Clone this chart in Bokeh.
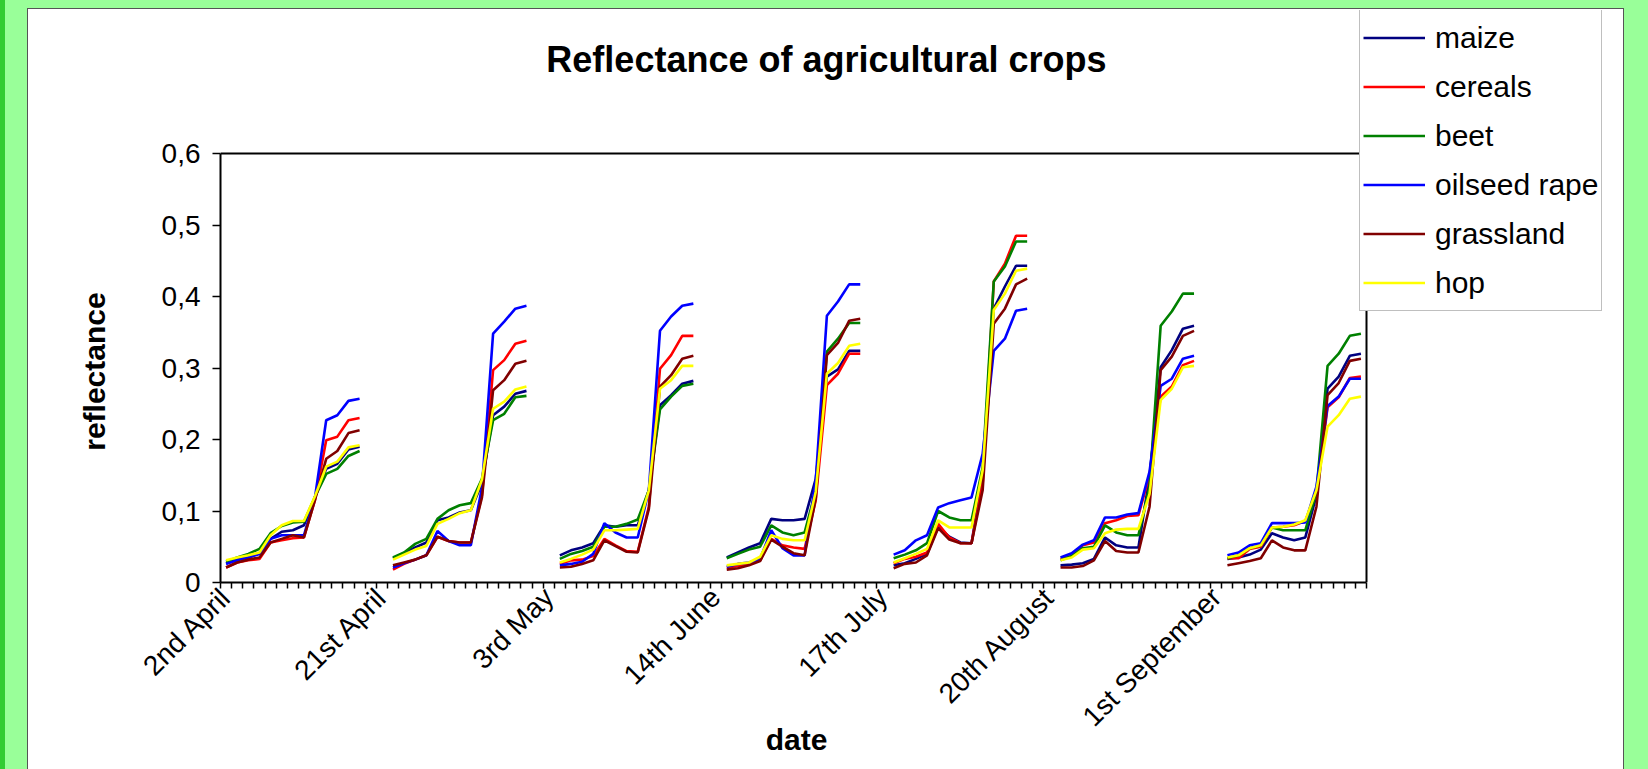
import math
from bokeh.plotting import figure
from bokeh.models import (Range1d, FixedTicker, CustomJSTickFormatter, Legend,
                          LegendItem, Label)
from bokeh.layouts import column
from bokeh.embed import file_html
from bokeh.resources import INLINE

dates = ["2nd April", "21st April", "3rd May", "14th June", "17th July",
         "20th August", "1st September"]
date_label_slots = [1, 15, 30, 45, 60, 75, 90]   # category slot carrying each date label
crops = ["maize", "cereals", "beet", "oilseed rape", "grassland", "hop"]
colors = ["#000080", "#FF0000", "#008000", "#0000FF", "#800000", "#FFFF00"]

maize = [
    [.027, .033, .035, .041, .061, .071, .073, .080, .120, .159, .166, .186, .190],
    [.034, .041, .049, .056, .087, .091, .098, .101, .139, .234, .246, .264, .268],
    [.038, .045, .049, .055, .080, .078, .080, .080, .129, .248, .262, .278, .282],
    [.035, .042, .049, .055, .089, .087, .087, .089, .145, .288, .298, .324, .324],
    [.024, .027, .033, .040, .078, .064, .056, .055, .151, .383, .414, .443, .443],
    [.024, .025, .027, .033, .063, .052, .049, .049, .148, .301, .325, .355, .359],
    [.033, .035, .039, .046, .069, .063, .059, .063, .122, .271, .288, .317, .320],
]
cereals = [
    [.021, .028, .031, .033, .056, .059, .062, .063, .116, .199, .204, .227, .230],
    [.018, .026, .032, .038, .064, .058, .056, .056, .122, .297, .311, .334, .338],
    [.026, .031, .032, .037, .061, .052, .044, .043, .106, .299, .318, .345, .345],
    [.021, .023, .026, .031, .061, .052, .049, .047, .115, .276, .292, .320, .320],
    [.027, .033, .036, .042, .082, .063, .055, .055, .138, .421, .446, .485, .485],
    [.033, .037, .052, .056, .083, .087, .093, .094, .150, .260, .274, .304, .310],
    [.034, .034, .047, .050, .077, .078, .080, .086, .124, .245, .259, .286, .288],
]
beet = [
    [.029, .035, .040, .047, .069, .079, .084, .085, .120, .152, .159, .177, .184],
    [.035, .042, .054, .061, .089, .101, .108, .111, .145, .227, .236, .259, .261],
    [.033, .040, .044, .050, .078, .078, .082, .088, .129, .242, .260, .275, .278],
    [.034, .040, .046, .050, .080, .070, .066, .070, .129, .323, .341, .363, .363],
    [.034, .039, .045, .055, .100, .091, .087, .087, .161, .421, .442, .477, .477],
    [.031, .037, .048, .050, .080, .070, .066, .066, .134, .359, .379, .404, .404],
    [.034, .038, .048, .052, .077, .073, .073, .073, .127, .303, .320, .345, .348],
]
oilseed_rape = [
    [.026, .031, .035, .040, .061, .066, .066, .066, .120, .227, .234, .254, .257],
    [.021, .027, .032, .038, .072, .058, .052, .052, .133, .348, .365, .383, .387],
    [.024, .026, .029, .040, .083, .070, .063, .063, .129, .352, .372, .387, .390],
    [.022, .026, .028, .033, .073, .048, .038, .038, .143, .373, .393, .417, .417],
    [.039, .045, .059, .066, .105, .111, .115, .119, .180, .324, .341, .380, .383],
    [.035, .041, .053, .059, .091, .091, .095, .097, .155, .275, .285, .313, .317],
    [.038, .042, .052, .055, .083, .083, .083, .084, .134, .247, .260, .285, .285],
]
grassland = [
    [.021, .028, .032, .035, .056, .061, .066, .063, .116, .173, .184, .209, .213],
    [.024, .028, .032, .038, .064, .058, .056, .056, .119, .269, .283, .306, .310],
    [.021, .022, .026, .031, .059, .051, .043, .042, .103, .274, .290, .313, .317],
    [.018, .020, .024, .030, .060, .050, .041, .038, .118, .318, .335, .366, .369],
    [.020, .026, .028, .038, .076, .060, .055, .055, .129, .362, .383, .417, .425],
    [.021, .021, .023, .031, .058, .044, .042, .042, .106, .297, .316, .345, .352],
    [.024, .027, .030, .034, .059, .049, .045, .045, .106, .262, .279, .310, .313],
]
hop = [
    [.031, .035, .038, .042, .066, .080, .086, .086, .121, .162, .169, .189, .192],
    [.032, .039, .046, .051, .082, .089, .097, .101, .144, .243, .253, .270, .274],
    [.028, .033, .039, .046, .073, .073, .074, .075, .129, .271, .283, .303, .303],
    [.024, .026, .028, .036, .066, .061, .059, .059, .127, .292, .307, .331, .334],
    [.028, .034, .040, .047, .087, .077, .077, .077, .157, .381, .404, .436, .439],
    [.031, .035, .046, .048, .069, .074, .075, .075, .124, .255, .271, .301, .303],
    [.035, .038, .048, .052, .077, .078, .081, .087, .129, .218, .234, .257, .260],
]
series = [maize, cereals, beet, oilseed_rape, grassland, hop]

points_per_date = 13
slots_per_date = 15          # 13 measurements + 2 empty category slots
n_slots = slots_per_date * (len(dates) - 1) + points_per_date
y_max = 0.6

FONT = "Liberation Sans"

# figure geometry (pixels)
FIG_W, FIG_H = 1595, 760
MB_LEFT, MB_TOP, MB_RIGHT, MB_BOTTOM = 192, 1, 3, 187
PLOT_W, PLOT_H = 1146, 429          # size of the actual plot area inside the frame
frame_w = FIG_W - MB_LEFT - MB_RIGHT
frame_h = FIG_H - MB_TOP - MB_BOTTOM

x0, x1 = 0.5, n_slots + 0.5
p = figure(width=FIG_W, height=FIG_H,
           x_range=Range1d(x0, x0 + (x1 - x0) * frame_w / PLOT_W),
           y_range=Range1d(0, y_max * frame_h / PLOT_H),
           output_backend="svg", toolbar_location=None,
           min_border_left=MB_LEFT, min_border_right=MB_RIGHT,
           min_border_top=MB_TOP, min_border_bottom=MB_BOTTOM,
           background_fill_color="white", border_fill_color="white",
           outline_line_color=None,
           margin=(9, 25, 0, 28))
p.styles = {"outline": "1px solid #555555", "background-color": "white"}

# plot-area border (top and right edges)
p.line([x0, x1, x1], [y_max, y_max, 0], line_color="black", line_width=2)

renderers = []
for name, data, col in zip(crops, series, colors):
    xs, ys = [], []
    for g, vals in enumerate(data):
        for j, v in enumerate(vals):
            xs.append(g * slots_per_date + j + 1)
            ys.append(v)
        xs.append(float("nan"))
        ys.append(float("nan"))
    r = p.line(xs, ys, line_color=col, line_width=2.6)
    renderers.append(r)

p.xgrid.visible = False
p.ygrid.visible = False

xa = p.xaxis[0]
xa.bounds = (x0, x1)
xa.ticker = FixedTicker(ticks=date_label_slots,
                        minor_ticks=[k + 0.5 for k in range(n_slots + 1)])
xa.major_label_overrides = {s: d for s, d in zip(date_label_slots, dates)}
xa.major_label_orientation = math.pi / 4
xa.major_tick_line_color = None
xa.minor_tick_line_color = "black"
xa.minor_tick_in = 0
xa.minor_tick_out = 6
xa.minor_tick_line_width = 1.5
xa.axis_line_color = "black"
xa.axis_line_width = 2
xa.major_label_text_font = FONT
xa.major_label_text_font_size = "28px"
xa.major_label_text_color = "black"
xa.major_label_standoff = 4

ya = p.yaxis[0]
ya.bounds = (0, y_max)
ya.ticker = FixedTicker(ticks=[0, 0.1, 0.2, 0.3, 0.4, 0.5, 0.6])
ya.formatter = CustomJSTickFormatter(
    code="return tick == 0 ? '0' : tick.toFixed(1).replace('.', ',');")
ya.minor_tick_line_color = None
ya.major_tick_in = 0
ya.major_tick_out = 8
ya.major_tick_line_width = 1.5
ya.axis_line_color = "black"
ya.axis_line_width = 2
ya.major_label_text_font = FONT
ya.major_label_text_font_size = "28px"
ya.major_label_text_color = "black"
ya.major_label_standoff = 12

# axis titles, centred on the plot area (kept in the left side panel so they are not clipped)
ylab = Label(x=-10.8, y=0.295, text="reflectance", angle=math.pi / 2,
             text_font=FONT, text_font_style="bold", text_font_size="30px",
             text_align="center", text_baseline="middle", text_color="black")
xlab = Label(x=52.27, y=-0.219, text="date",
             text_font=FONT, text_font_style="bold", text_font_size="30px",
             text_align="center", text_baseline="alphabetic", text_color="black")
p.add_layout(ylab, "left")
p.add_layout(xlab, "left")

# chart title, centred over the chart area
title = Label(x=54.96, y=0.731, text="Reflectance of agricultural crops",
              text_font=FONT, text_font_style="bold", text_font_size="36px",
              text_align="center", text_baseline="alphabetic", text_color="black")
p.add_layout(title)

legend = Legend(items=[LegendItem(label=n, renderers=[r]) for n, r in zip(crops, renderers)],
                location=(1139, 271), orientation="vertical",
                label_text_font=FONT, label_text_font_size="30px",
                label_text_color="black",
                glyph_width=62, glyph_height=49, label_standoff=10,
                spacing=0, padding=3, margin=0,
                border_line_color="#808080", border_line_width=1.5,
                background_fill_color="white", background_fill_alpha=1)
p.add_layout(legend, "center")

page = column(p, width=1648, height=769,
              styles={"background": "linear-gradient(to right, #33CC33 0px, #33CC33 5px, #99FF99 5px)"})

open("out.html", "w").write(file_html(page, INLINE))
